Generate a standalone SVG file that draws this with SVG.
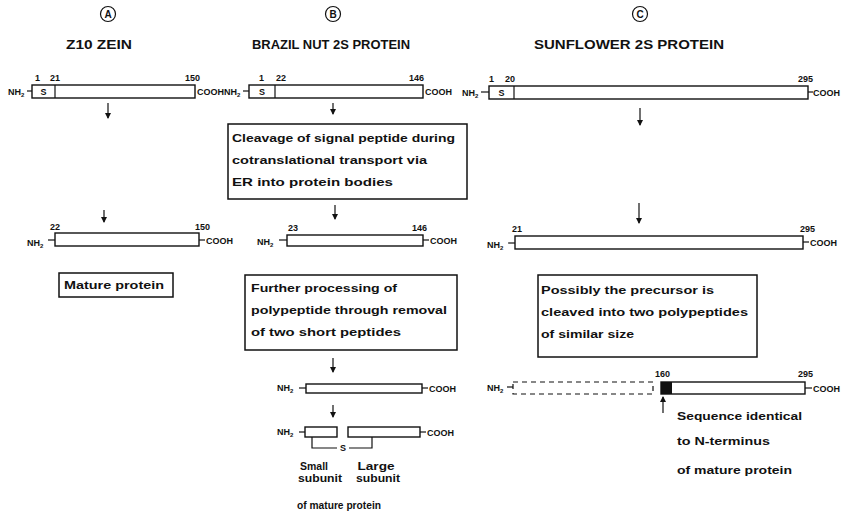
<svg xmlns="http://www.w3.org/2000/svg" width="852" height="518" viewBox="0 0 852 518">
<defs>
<style>
text{font-family:"Liberation Sans",Arial,sans-serif;font-weight:bold;fill:#111;}
.t{font-size:13px;}
.b{font-size:11px;}
.n{font-size:9px;}
.e{font-size:9px;}
.c{font-size:10px;}
.bar{fill:#fff;stroke:#111;stroke-width:1.4;}
.box{fill:#fff;stroke:#111;stroke-width:1.5;}
.ln{stroke:#111;stroke-width:1.2;fill:none;}
.arr{stroke:#111;stroke-width:1.2;fill:none;marker-end:url(#ah);}
</style>
<marker id="ah" viewBox="0 0 6 6" refX="5" refY="3" markerWidth="6" markerHeight="6" orient="auto" markerUnits="userSpaceOnUse">
<path d="M0,0 L6,3 L0,6 z" fill="#111"/>
</marker>
</defs>
<rect width="852" height="518" fill="#fff"/>

<g id="headers">
<g id="hdrA"><circle cx="108" cy="14" r="7.5" class="ln" stroke-width="1.8"/><text x="108" y="17.6" class="c" text-anchor="middle">A</text>
<text x="66" y="49" class="t" textLength="66" lengthAdjust="spacingAndGlyphs">Z10 ZEIN</text></g>
<g id="hdrB"><circle cx="333" cy="14" r="7.5" class="ln" stroke-width="1.8"/><text x="333" y="17.6" class="c" text-anchor="middle">B</text>
<text x="252" y="49" class="t" textLength="158" lengthAdjust="spacingAndGlyphs">BRAZIL NUT 2S PROTEIN</text></g>
<g id="hdrC"><circle cx="640" cy="14" r="7.5" class="ln" stroke-width="1.8"/><text x="640" y="17.6" class="c" text-anchor="middle">C</text>
<text x="534" y="49" class="t" textLength="190" lengthAdjust="spacingAndGlyphs">SUNFLOWER 2S PROTEIN</text></g>
</g>

<!-- A precursor -->
<g id="A1">
<text x="8" y="95" class="e">NH<tspan font-size="6" dy="2">2</tspan></text>
<line x1="27" y1="91" x2="32" y2="91" class="ln"/>
<rect x="32" y="85" width="163" height="13" class="bar"/>
<line x1="55" y1="85" x2="55" y2="98" class="ln"/>
<text x="43.5" y="95" class="e" text-anchor="middle">S</text>
<text x="35" y="81" class="n">1</text><text x="50" y="81" class="n">21</text><text x="200" y="81" class="n" text-anchor="end">150</text>
<text x="197" y="95" class="e">COOH</text>
</g>

<!-- B precursor -->
<g id="B1">
<text x="224" y="95" class="e">NH<tspan font-size="6" dy="2">2</tspan></text>
<line x1="243" y1="91" x2="249" y2="91" class="ln"/>
<rect x="249" y="85" width="174" height="13" class="bar"/>
<line x1="275" y1="85" x2="275" y2="98" class="ln"/>
<text x="262" y="95" class="e" text-anchor="middle">S</text>
<text x="259" y="81" class="n">1</text><text x="276" y="81" class="n">22</text><text x="424" y="81" class="n" text-anchor="end">146</text>
<text x="425" y="95" class="e">COOH</text>
</g>

<!-- C precursor -->
<g id="C1">
<text x="462" y="96" class="e">NH<tspan font-size="6" dy="2">2</tspan></text>
<line x1="481" y1="92" x2="489" y2="92" class="ln"/>
<rect x="489" y="86" width="319" height="13" class="bar"/>
<line x1="514" y1="86" x2="514" y2="99" class="ln"/>
<text x="501.5" y="96" class="e" text-anchor="middle">S</text>
<text x="489" y="82" class="n">1</text><text x="505" y="82" class="n">20</text><text x="813" y="82" class="n" text-anchor="end">295</text>
<line x1="808" y1="92" x2="813" y2="92" class="ln"/>
<text x="813" y="96" class="e">COOH</text>
</g>

<!-- A mature -->
<g id="A2">
<text x="27" y="246" class="e">NH<tspan font-size="6" dy="2">2</tspan></text>
<line x1="48" y1="240" x2="55" y2="240" class="ln"/>
<rect x="55" y="233" width="144" height="13" class="bar"/>
<line x1="199" y1="240" x2="205" y2="240" class="ln"/>
<text x="50" y="230" class="n">22</text><text x="210" y="230" class="n" text-anchor="end">150</text>
<text x="206" y="244" class="e">COOH</text>
</g>
<g id="A3"><rect x="59" y="273" width="114" height="24" class="box"/>
<text x="64" y="289" class="b" textLength="100" lengthAdjust="spacingAndGlyphs">Mature protein</text></g>

<!-- B box 1 -->
<g id="B2"><rect x="228" y="124" width="239" height="75" class="box"/>
<text x="232" y="142" class="b" textLength="223" lengthAdjust="spacingAndGlyphs">Cleavage of signal peptide during</text>
<text x="232" y="164" class="b" textLength="195" lengthAdjust="spacingAndGlyphs">cotranslational transport via</text>
<text x="232" y="186" class="b" textLength="161" lengthAdjust="spacingAndGlyphs">ER into protein bodies</text></g>

<!-- B mature -->
<g id="B3">
<text x="257" y="245" class="e">NH<tspan font-size="6" dy="2">2</tspan></text>
<line x1="279" y1="240" x2="287" y2="240" class="ln"/>
<rect x="287" y="235" width="136" height="11" class="bar"/>
<line x1="423" y1="240" x2="429" y2="240" class="ln"/>
<text x="288" y="231" class="n">23</text><text x="427" y="231" class="n" text-anchor="end">146</text>
<text x="430" y="244" class="e">COOH</text>
</g>

<!-- B box 2 -->
<g id="B4"><rect x="245" y="275" width="212" height="75" class="box"/>
<text x="251" y="292" class="b" textLength="146" lengthAdjust="spacingAndGlyphs">Further processing of</text>
<text x="251" y="314" class="b" textLength="196" lengthAdjust="spacingAndGlyphs">polypeptide through removal</text>
<text x="251" y="336" class="b" textLength="150" lengthAdjust="spacingAndGlyphs">of two short peptides</text></g>

<!-- B processed -->
<g id="B5">
<text x="277" y="391" class="e">NH<tspan font-size="6" dy="2">2</tspan></text>
<line x1="299" y1="388" x2="306" y2="388" class="ln"/>
<rect x="306" y="384" width="116" height="9" class="bar"/>
<line x1="422" y1="388" x2="428" y2="388" class="ln"/>
<text x="429" y="392" class="e">COOH</text>
</g>

<!-- B subunits -->
<g id="B6">
<text x="277" y="435" class="e">NH<tspan font-size="6" dy="2">2</tspan></text>
<line x1="299" y1="432" x2="305" y2="432" class="ln"/>
<rect x="305" y="427" width="32" height="10" class="bar"/>
<rect x="348" y="427" width="72" height="10" class="bar"/>
<line x1="420" y1="432" x2="426" y2="432" class="ln"/>
<text x="427" y="436" class="e">COOH</text>
<polyline points="312,437 312,448 337,448" class="ln"/>
<text x="343" y="451" class="e" text-anchor="middle">S</text>
<polyline points="349,448 372,448 372,437" class="ln"/>
<text x="314" y="470" class="b" text-anchor="middle" textLength="28" lengthAdjust="spacingAndGlyphs">Small</text>
<text x="320" y="482" class="b" text-anchor="middle" textLength="44" lengthAdjust="spacingAndGlyphs">subunit</text>
<text x="376" y="470" class="b" text-anchor="middle" textLength="37" lengthAdjust="spacingAndGlyphs">Large</text>
<text x="378" y="482" class="b" text-anchor="middle" textLength="44" lengthAdjust="spacingAndGlyphs">subunit</text>
<text x="297" y="509" class="b" textLength="84" lengthAdjust="spacingAndGlyphs">of mature protein</text>
</g>

<!-- C mature -->
<g id="C2">
<text x="487" y="248" class="e">NH<tspan font-size="6" dy="2">2</tspan></text>
<line x1="508" y1="243" x2="515" y2="243" class="ln"/>
<rect x="515" y="236" width="288" height="13" class="bar"/>
<line x1="803" y1="242" x2="809" y2="242" class="ln"/>
<text x="512" y="232" class="n">21</text><text x="815" y="232" class="n" text-anchor="end">295</text>
<text x="810" y="246" class="e">COOH</text>
</g>

<!-- C box -->
<g id="C3"><rect x="538" y="275" width="219" height="82" class="box"/>
<text x="541" y="294" class="b" textLength="173" lengthAdjust="spacingAndGlyphs">Possibly the precursor is</text>
<text x="541" y="316" class="b" textLength="207" lengthAdjust="spacingAndGlyphs">cleaved into two polypeptides</text>
<text x="541" y="338" class="b" textLength="93" lengthAdjust="spacingAndGlyphs">of similar size</text></g>

<!-- C cleaved -->
<g id="C4">
<text x="487" y="391" class="e">NH<tspan font-size="6" dy="2">2</tspan></text>
<line x1="507" y1="387" x2="513" y2="387" class="ln"/>
<rect x="513" y="382" width="140" height="12" fill="none" stroke="#111" stroke-width="1.2" stroke-dasharray="5,4"/>
<rect x="661" y="382" width="11" height="12" fill="#111"/>
<rect x="661" y="382" width="144" height="12" class="bar" style="fill:none"/>
<line x1="805" y1="388" x2="812" y2="388" class="ln"/>
<text x="655" y="377" class="n">160</text><text x="813" y="377" class="n" text-anchor="end">295</text>
<text x="813" y="392" class="e">COOH</text>
</g>
<g id="C5">
<text x="677" y="420" class="b" textLength="125" lengthAdjust="spacingAndGlyphs">Sequence identical</text>
<text x="677" y="445" class="b" textLength="93" lengthAdjust="spacingAndGlyphs">to N-terminus</text>
<text x="677" y="474" class="b" textLength="115" lengthAdjust="spacingAndGlyphs">of mature protein</text>
</g>

<g id="connectors">
<line x1="108" y1="103" x2="108" y2="118" class="arr"/>
<line x1="333" y1="103" x2="333" y2="114" class="arr"/>
<line x1="640" y1="108" x2="640" y2="125" class="arr"/>
<line x1="104" y1="210" x2="104" y2="222" class="arr"/>
<line x1="335" y1="205" x2="335" y2="219" class="arr"/>
<line x1="639" y1="203" x2="639" y2="223" class="arr"/>
<line x1="333" y1="358" x2="333" y2="372" class="arr"/>
<line x1="333" y1="405" x2="333" y2="417" class="arr"/>
<line x1="663" y1="413" x2="663" y2="397" class="arr"/>
</g>
</svg>
